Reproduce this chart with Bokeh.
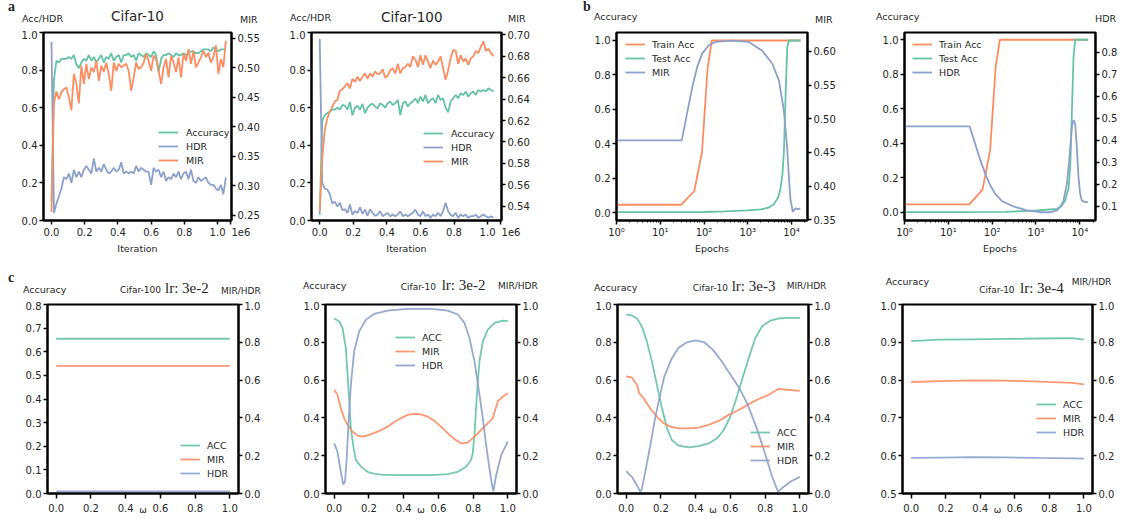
from bokeh.plotting import figure
from bokeh.models import (Range1d, LinearAxis, Legend, LegendItem, Div,
                          FixedTicker, PrintfTickFormatter, CustomJSTickFormatter)
from bokeh.layouts import row, column
from bokeh.embed import file_html
from bokeh.resources import INLINE

GREEN, ORANGE, BLUE = "#66c2a5", "#fc8d62", "#8da0cb"
SANS, SERIF, INK = "DejaVu Sans", "Liberation Serif", "#262626"

# ---------------- data: panel a (iterations in units of 1e6) ----------------
iter_c10 = [0.0, 0.015, 0.03, 0.045, 0.06, 0.075, 0.09, 0.105, 0.12, 0.135, 0.15, 0.165, 0.18, 0.195,
            0.21, 0.225, 0.24, 0.255, 0.27, 0.285, 0.3, 0.315, 0.33, 0.345, 0.36, 0.375, 0.39, 0.405,
            0.42, 0.435, 0.45, 0.465, 0.48, 0.495, 0.51, 0.525, 0.54, 0.555, 0.57, 0.585, 0.6, 0.615,
            0.63, 0.645, 0.66, 0.675, 0.69, 0.705, 0.72, 0.735, 0.75, 0.765, 0.78, 0.795, 0.81, 0.825,
            0.84, 0.855, 0.87, 0.885, 0.9, 0.915, 0.93, 0.945, 0.96, 0.975, 0.99, 1.005, 1.02, 1.035, 1.05]
acc_c10 = [0.10, 0.75, 0.85, 0.84, 0.86, 0.86, 0.86, 0.87, 0.86, 0.88,
           0.83, 0.81, 0.84, 0.86, 0.85, 0.88, 0.85, 0.87, 0.84, 0.86,
           0.88, 0.84, 0.87, 0.86, 0.89, 0.85, 0.87, 0.88, 0.84, 0.88,
           0.88, 0.89, 0.87, 0.88, 0.85, 0.89, 0.88, 0.87, 0.89, 0.88,
           0.87, 0.90, 0.88, 0.79, 0.86, 0.88, 0.88, 0.89, 0.88, 0.87,
           0.89, 0.88, 0.88, 0.89, 0.88, 0.89, 0.90, 0.90, 0.89, 0.89,
           0.90, 0.91, 0.91, 0.91, 0.90, 0.92, 0.91, 0.90, 0.91, 0.91, 0.91]
hdr_c10 = [0.95, 0.04, 0.09, 0.13, 0.17, 0.23, 0.22, 0.25, 0.20, 0.27,
           0.23, 0.26, 0.23, 0.27, 0.29, 0.27, 0.25, 0.33, 0.26, 0.28,
           0.26, 0.30, 0.27, 0.25, 0.26, 0.28, 0.26, 0.27, 0.31, 0.25,
           0.26, 0.25, 0.26, 0.25, 0.29, 0.26, 0.28, 0.27, 0.26, 0.26,
           0.19, 0.28, 0.26, 0.27, 0.23, 0.26, 0.21, 0.23, 0.22, 0.25,
           0.23, 0.26, 0.22, 0.25, 0.26, 0.22, 0.27, 0.21, 0.20, 0.23,
           0.21, 0.22, 0.23, 0.20, 0.19, 0.19, 0.17, 0.16, 0.19, 0.14, 0.23]
mir_c10 = [0.256, 0.44, 0.46, 0.447, 0.459, 0.464, 0.467, 0.450, 0.428, 0.490,
           0.473, 0.440, 0.504, 0.473, 0.507, 0.481, 0.501, 0.493, 0.512, 0.478,
           0.504, 0.493, 0.509, 0.490, 0.461, 0.509, 0.495, 0.507, 0.501, 0.504,
           0.507, 0.495, 0.461, 0.484, 0.509, 0.498, 0.501, 0.509, 0.524, 0.512,
           0.495, 0.521, 0.515, 0.495, 0.473, 0.501, 0.515, 0.484, 0.521, 0.509,
           0.493, 0.518, 0.484, 0.524, 0.512, 0.532, 0.507, 0.529, 0.501, 0.509,
           0.518, 0.529, 0.518, 0.526, 0.509, 0.518, 0.538, 0.490, 0.515, 0.501, 0.546]

iter_c100 = [0.0, 0.015, 0.03, 0.045, 0.06, 0.075, 0.09, 0.105, 0.12, 0.135, 0.15, 0.165, 0.18, 0.195,
             0.21, 0.225, 0.24, 0.255, 0.27, 0.285, 0.3, 0.315, 0.33, 0.345, 0.36, 0.375, 0.39, 0.405,
             0.42, 0.435, 0.45, 0.465, 0.48, 0.495, 0.51, 0.525, 0.54, 0.555, 0.57, 0.585, 0.6, 0.615,
             0.63, 0.645, 0.66, 0.675, 0.69, 0.705, 0.72, 0.735, 0.75, 0.765, 0.78, 0.795, 0.81, 0.825,
             0.84, 0.855, 0.87, 0.885, 0.9, 0.915, 0.93, 0.945, 0.96, 0.975, 0.99, 1.005, 1.02, 1.035]
acc_c100 = [0.03, 0.53, 0.56, 0.57, 0.58, 0.59, 0.59, 0.60, 0.59, 0.615,
            0.61, 0.59, 0.63, 0.56, 0.60, 0.61, 0.59, 0.62, 0.57, 0.60,
            0.615, 0.62, 0.605, 0.597, 0.624, 0.615, 0.60, 0.624, 0.633, 0.615,
            0.624, 0.641, 0.56, 0.624, 0.633, 0.606, 0.624, 0.633, 0.650, 0.624,
            0.659, 0.633, 0.668, 0.624, 0.641, 0.650, 0.624, 0.668, 0.641, 0.650,
            0.60, 0.575, 0.633, 0.650, 0.668, 0.650, 0.677, 0.668, 0.686, 0.659,
            0.677, 0.686, 0.668, 0.694, 0.686, 0.694, 0.686, 0.703, 0.694, 0.686]
hdr_c100 = [0.965, 0.20, 0.17, 0.165, 0.14, 0.09, 0.10, 0.075, 0.095, 0.055,
            0.06, 0.04, 0.085, 0.03, 0.05, 0.04, 0.07, 0.035, 0.058, 0.025,
            0.06, 0.04, 0.025, 0.032, 0.05, 0.023, 0.032, 0.04, 0.023, 0.032,
            0.023, 0.032, 0.049, 0.023, 0.032, 0.023, 0.032, 0.041, 0.058, 0.032,
            0.023, 0.049, 0.023, 0.032, 0.014, 0.032, 0.023, 0.041, 0.023, 0.05,
            0.094, 0.05, 0.03, 0.023, 0.041, 0.014, 0.032, 0.023, 0.032, 0.014,
            0.023, 0.023, 0.032, 0.014, 0.023, 0.032, 0.023, 0.014, 0.023, 0.014]
mir_c100 = [0.535, 0.585, 0.611, 0.622, 0.628, 0.633, 0.638, 0.639, 0.648, 0.649,
            0.652, 0.655, 0.650, 0.659, 0.656, 0.661, 0.657, 0.661, 0.664, 0.659,
            0.664, 0.661, 0.666, 0.663, 0.664, 0.668, 0.660, 0.662, 0.667, 0.669,
            0.664, 0.673, 0.664, 0.669, 0.670, 0.673, 0.670, 0.680, 0.677, 0.670,
            0.681, 0.672, 0.681, 0.675, 0.669, 0.676, 0.672, 0.675, 0.680, 0.669,
            0.658, 0.667, 0.678, 0.686, 0.685, 0.673, 0.681, 0.675, 0.678, 0.672,
            0.678, 0.680, 0.685, 0.683, 0.689, 0.694, 0.685, 0.687, 0.683, 0.680]

# ---------------- data: panel b (epochs, log axis) ----------------
ep_b1_train = [1, 30, 60, 90, 120, 150, 16000]
train_b1 = [0.045, 0.045, 0.125, 0.35, 0.83, 1.0, 1.0]
ep_b1_test = [1, 10, 100, 300, 1000, 2000, 3000, 4000, 5000, 5600, 6200, 6700, 7300, 8000, 8700, 10000, 16000]
test_b1 = [0.002, 0.002, 0.003, 0.006, 0.012, 0.018, 0.028, 0.05, 0.09, 0.14, 0.22, 0.35, 0.67, 0.96, 1.0, 1.0, 1.0]
ep_b1_mir = [1, 31, 41, 54, 70, 91, 129, 183, 440, 1060, 2140, 3620, 5160, 6660, 7950, 8690, 9480,
             10700, 12300, 14000, 16000]
mir_b1 = [0.468, 0.468, 0.508, 0.547, 0.577, 0.597, 0.609, 0.614, 0.616, 0.614, 0.601, 0.582, 0.557,
          0.513, 0.458, 0.414, 0.380, 0.362, 0.367, 0.366, 0.367]

ep_b2_train = [1, 30, 60, 90, 120, 150, 15500]
train_b2 = [0.045, 0.045, 0.13, 0.36, 0.84, 1.0, 1.0]
ep_b2_test = [1, 10, 200, 1050, 3000, 3890, 4660, 5580, 6080, 6580, 7180, 7850, 10000, 15500]
test_b2 = [0.0, 0.0, 0.002, 0.01, 0.019, 0.039, 0.068, 0.145, 0.28, 0.57, 0.90, 1.0, 1.0, 1.0]
ep_b2_hdr = [1, 30.7, 41, 54, 70, 91, 118, 168, 309, 621, 1250, 2120, 3000, 3570, 4250, 5070, 5830,
             6580, 7180, 7850, 8550, 9330, 10200, 11100, 13300, 15500]
hdr_b2 = [0.463, 0.463, 0.384, 0.309, 0.248, 0.195, 0.157, 0.124, 0.100, 0.082, 0.074, 0.074, 0.082,
          0.097, 0.127, 0.203, 0.324, 0.46, 0.493, 0.475, 0.369, 0.233, 0.157, 0.127, 0.12, 0.12]

# ---------------- data: panel c (omega) ----------------
w_c1 = [0.0, 0.1, 0.2, 0.3, 0.4, 0.5, 0.6, 0.7, 0.8, 0.9, 1.0]
acc_c1 = [0.655, 0.655, 0.655, 0.655, 0.655, 0.655, 0.655, 0.655, 0.655, 0.655, 0.655]
mir_c1 = [0.675, 0.675, 0.675, 0.675, 0.675, 0.675, 0.675, 0.675, 0.675, 0.675, 0.675]
hdr_c1 = [0.011, 0.011, 0.011, 0.011, 0.011, 0.011, 0.011, 0.011, 0.011, 0.011, 0.011]

w_c2_acc = [0.0, 0.029, 0.048, 0.067, 0.077, 0.087, 0.096, 0.112, 0.125, 0.154, 0.192, 0.231, 0.269,
            0.365, 0.462, 0.558, 0.654, 0.712, 0.76, 0.788, 0.798, 0.808, 0.817, 0.827, 0.837, 0.856,
            0.885, 0.923, 0.971, 1.0]
acc_c2 = [0.926, 0.91, 0.876, 0.77, 0.63, 0.487, 0.345, 0.24, 0.177, 0.142, 0.115, 0.104, 0.10, 0.097,
          0.097, 0.097, 0.103, 0.115, 0.142, 0.177, 0.212, 0.31, 0.45, 0.593, 0.70, 0.805, 0.867, 0.903,
          0.915, 0.912]
w_c2_mir = [0.0, 0.019, 0.038, 0.058, 0.077, 0.106, 0.135, 0.163, 0.202, 0.25, 0.308, 0.365, 0.423,
            0.462, 0.5, 0.538, 0.577, 0.615, 0.654, 0.692, 0.731, 0.769, 0.808, 0.846, 0.885, 0.913,
            0.942, 0.971, 1.0]
mir_c2 = [0.549, 0.522, 0.451, 0.398, 0.363, 0.327, 0.306, 0.301, 0.31, 0.327, 0.354, 0.389, 0.416,
          0.421, 0.419, 0.407, 0.384, 0.354, 0.319, 0.288, 0.265, 0.269, 0.301, 0.336, 0.372, 0.398,
          0.487, 0.513, 0.531]
w_c2_hdr = [0.0, 0.019, 0.038, 0.052, 0.062, 0.071, 0.083, 0.096, 0.115, 0.144, 0.183, 0.231, 0.308,
            0.423, 0.558, 0.654, 0.712, 0.75, 0.779, 0.808, 0.837, 0.856, 0.875, 0.894, 0.908, 0.917,
            0.933, 0.962, 1.0]
hdr_c2 = [0.265, 0.221, 0.115, 0.048, 0.062, 0.168, 0.38, 0.575, 0.752, 0.858, 0.92, 0.95, 0.968,
          0.977, 0.977, 0.968, 0.947, 0.903, 0.823, 0.699, 0.522, 0.398, 0.257, 0.133, 0.05, 0.012,
          0.097, 0.204, 0.274]

w_c3_acc = [0.0, 0.033, 0.062, 0.09, 0.119, 0.148, 0.177, 0.206, 0.235, 0.263, 0.302, 0.36, 0.417,
            0.475, 0.523, 0.562, 0.6, 0.629, 0.667, 0.706, 0.744, 0.783, 0.831, 0.879, 0.927, 1.0]
acc_c3 = [0.947, 0.942, 0.926, 0.885, 0.805, 0.699, 0.575, 0.451, 0.345, 0.283, 0.253, 0.244, 0.251,
          0.265, 0.292, 0.336, 0.407, 0.487, 0.602, 0.717, 0.823, 0.885, 0.915, 0.926, 0.929, 0.929]
w_c3_mir = [0.0, 0.033, 0.062, 0.075, 0.1, 0.138, 0.177, 0.215, 0.254, 0.302, 0.36, 0.417, 0.475,
            0.533, 0.59, 0.648, 0.706, 0.763, 0.821, 0.879, 0.927, 1.0]
mir_c3 = [0.619, 0.614, 0.575, 0.531, 0.504, 0.451, 0.407, 0.372, 0.354, 0.345, 0.345, 0.349, 0.363,
          0.384, 0.416, 0.442, 0.473, 0.50, 0.522, 0.554, 0.549, 0.543]
w_c3_hdr = [0.0, 0.033, 0.062, 0.081, 0.09, 0.11, 0.138, 0.167, 0.19, 0.22, 0.26, 0.3, 0.35, 0.4,
            0.45, 0.5, 0.55, 0.6, 0.65, 0.7, 0.75, 0.8, 0.84, 0.875, 0.9, 0.95, 1.0]
hdr_c3 = [0.119, 0.088, 0.044, 0.009, 0.023, 0.115, 0.25, 0.40, 0.50, 0.62, 0.71, 0.77, 0.80, 0.81,
          0.80, 0.76, 0.70, 0.63, 0.56, 0.47, 0.35, 0.21, 0.09, 0.009, 0.03, 0.065, 0.088]

w_c4 = [0.0, 0.163, 0.356, 0.548, 0.74, 0.933, 1.0]
acc_c4 = [0.903, 0.907, 0.908, 0.909, 0.910, 0.911, 0.907]
mir_c4 = [0.590, 0.595, 0.599, 0.597, 0.592, 0.585, 0.577]
hdr_c4 = [0.188, 0.190, 0.192, 0.191, 0.188, 0.186, 0.185]

# ---------------- tick labels ----------------
ticks_01 = [0.0, 0.2, 0.4, 0.6, 0.8, 1.0]
ticks_iter = [0.0, 0.2, 0.4, 0.6, 0.8, 1.0, 1.08]      # last one carries the "1e6" offset text
ticks_08 = [0.0, 0.1, 0.2, 0.3, 0.4, 0.5, 0.6, 0.7, 0.8]
ticks_05 = [0.5, 0.6, 0.7, 0.8, 0.9, 1.0]
ticks_mir_a1 = [0.25, 0.30, 0.35, 0.40, 0.45, 0.50, 0.55]
ticks_mir_a2 = [0.54, 0.56, 0.58, 0.60, 0.62, 0.64, 0.66, 0.68, 0.70]
ticks_mir_b1 = [0.35, 0.40, 0.45, 0.50, 0.55, 0.60]
ticks_hdr_b2 = [0.1, 0.2, 0.3, 0.4, 0.5, 0.6, 0.7, 0.8]
ticks_log = [1, 10, 100, 1000, 10000]
minor_log = [m * 10 ** d for d in range(5) for m in range(2, 10)]
OFFSET_TXT = "\u2002\u2002\u2002\u20021e6"


def style_axis(ax, ticks, fmt=None, minor=None, standoff=2, tick_out=4):
    ax.ticker = FixedTicker(ticks=ticks, minor_ticks=minor or [])
    if fmt:
        ax.formatter = PrintfTickFormatter(format=fmt)
    ax.axis_line_color = "black"
    ax.axis_line_width = 2
    ax.major_tick_line_color = "black"
    ax.major_tick_line_width = 1.5
    ax.major_tick_in = 0
    ax.major_tick_out = tick_out
    ax.minor_tick_line_color = "black" if minor else None
    ax.minor_tick_line_width = 1
    ax.minor_tick_in = 0
    ax.minor_tick_out = 2
    ax.major_label_text_font = SANS
    ax.major_label_text_font_size = "10px"
    ax.major_label_text_color = INK
    ax.major_label_standoff = standoff
    ax.axis_label_text_font = SANS
    ax.axis_label_text_font_size = "9.5px"
    ax.axis_label_text_font_style = "normal"
    ax.axis_label_text_color = INK
    ax.axis_label_standoff = 2


def panel(fw, fh, bl, br, bt, bb, xr, yr, log=False):
    p = figure(frame_width=fw, frame_height=fh, min_border_left=bl, min_border_right=br,
               min_border_top=bt, min_border_bottom=bb, x_range=Range1d(*xr), y_range=Range1d(*yr),
               x_axis_type="log" if log else "linear", output_backend="svg",
               toolbar_location=None, title=None)
    p.xgrid.grid_line_color = None
    p.ygrid.grid_line_color = None
    p.outline_line_color = "black"
    p.outline_line_width = 2
    p.outline_line_alpha = 1
    return p


def right_axis(p, lo, hi, ticks, fmt):
    p.extra_y_ranges = {"r": Range1d(lo, hi)}
    ax = LinearAxis(y_range_name="r")
    style_axis(ax, ticks, fmt)
    p.add_layout(ax, "right")


def legend(p, items, vx, vy, standoff=8):
    lg = Legend(items=[LegendItem(label=l, renderers=[r]) for l, r in items], location=(vx, vy),
                padding=0, margin=0, spacing=0, glyph_width=20, glyph_height=14, label_height=14,
                label_standoff=standoff, label_text_font=SANS, label_text_font_size="9.5px",
                label_text_color=INK, background_fill_alpha=0, border_line_color=None)
    p.add_layout(lg)


def T(left, top, s, size=9.5, font=SANS, bold=False):
    w = "bold" if bold else "normal"
    return ('<span style="position:absolute;left:%.1fpx;top:%.1fpx;font-family:\'%s\';'
            'font-size:%.1fpx;font-weight:%s;line-height:1;color:%s;white-space:nowrap;">%s</span>'
            % (left, top, font, size, w, INK, s))


def band(width, height, spans):
    html = ('<div style="position:relative;width:%dpx;height:%dpx;overflow:visible;">%s</div>'
            % (width, height, "".join(spans)))
    return Div(text=html, width=width, height=height, margin=0)


LW = 1.8
log_fmt = CustomJSTickFormatter(code="""
const s = ["\u2070", "\u00b9", "\u00b2", "\u00b3", "\u2074", "\u2075"];
const e = Math.round(Math.log10(tick));
return "10" + s[e];
""")

# ---------------- a1 ----------------
a1 = panel(188, 188, 43, 40, 2, 40, (-0.048, 1.084), (0, 1))
style_axis(a1.xaxis[0], ticks_iter, "%.1f")
a1.xaxis[0].major_label_overrides = {1.08: OFFSET_TXT}
a1.xaxis[0].axis_label = "Iteration"
style_axis(a1.yaxis[0], ticks_01, "%.1f")
right_axis(a1, 0.2415, 0.560, ticks_mir_a1, "%.2f")
r_acc = a1.line(iter_c10, acc_c10, color=GREEN, line_width=LW)
r_hdr = a1.line(iter_c10, hdr_c10, color=BLUE, line_width=LW)
r_mir = a1.line(iter_c10, mir_c10, color=ORANGE, line_width=LW, y_range_name="r")
legend(a1, [("Accuracy", r_acc), ("HDR", r_hdr), ("MIR", r_mir)], 115, 53)

# ---------------- a2 ----------------
a2 = panel(190, 188, 40, 70, 2, 40, (-0.049, 1.083), (0, 1))
style_axis(a2.xaxis[0], ticks_iter, "%.1f")
a2.xaxis[0].major_label_overrides = {1.08: OFFSET_TXT}
a2.xaxis[0].axis_label = "Iteration"
style_axis(a2.yaxis[0], ticks_01, "%.1f")
right_axis(a2, 0.5267, 0.7022, ticks_mir_a2, "%.2f")
r_acc = a2.line(iter_c100, acc_c100, color=GREEN, line_width=LW)
r_hdr = a2.line(iter_c100, hdr_c100, color=BLUE, line_width=LW)
r_mir = a2.line(iter_c100, mir_c100, color=ORANGE, line_width=LW, y_range_name="r")
legend(a2, [("Accuracy", r_acc), ("HDR", r_hdr), ("MIR", r_mir)], 112, 52)

# ---------------- b1 ----------------
b1 = panel(191, 188, 45, 52, 2, 40, (1, 23200), (-0.0465, 1.0465), log=True)
style_axis(b1.xaxis[0], ticks_log, None, minor=minor_log)
b1.xaxis[0].formatter = log_fmt
b1.xaxis[0].axis_label = "Epochs"
style_axis(b1.yaxis[0], ticks_01, "%.1f")
right_axis(b1, 0.349, 0.628, ticks_mir_b1, "%.2f")
r_tr = b1.line(ep_b1_train, train_b1, color=ORANGE, line_width=LW)
r_te = b1.line(ep_b1_test, test_b1, color=GREEN, line_width=LW)
r_mir = b1.line(ep_b1_mir, mir_b1, color=BLUE, line_width=LW, y_range_name="r")
legend(b1, [("Train Acc", r_tr), ("Test Acc", r_te), ("MIR", r_mir)], 9, 141, standoff=7)

# ---------------- b2 ----------------
b2 = panel(191, 188, 45, 24, 2, 40, (1, 22800), (-0.048, 1.042), log=True)
style_axis(b2.xaxis[0], ticks_log, None, minor=minor_log)
b2.xaxis[0].formatter = log_fmt
b2.xaxis[0].axis_label = "Epochs"
style_axis(b2.yaxis[0], ticks_01, "%.1f")
right_axis(b2, 0.0365, 0.889, ticks_hdr_b2, "%.1f")
r_tr = b2.line(ep_b2_train, train_b2, color=ORANGE, line_width=LW)
r_te = b2.line(ep_b2_test, test_b2, color=GREEN, line_width=LW)
r_hdr = b2.line(ep_b2_hdr, hdr_b2, color=BLUE, line_width=LW, y_range_name="r")
legend(b2, [("Train Acc", r_tr), ("Test Acc", r_te), ("HDR", r_hdr)], 8, 141, standoff=7)

top_band = band(1119, 30, [
    T(8, 0, "a", 14, SERIF, True),
    T(22, 14.4, "Acc/HDR"),
    T(111, 10.2, "Cifar-10", 13.5),
    T(240, 15.4, "MIR"),
    T(290, 12.7, "Acc/HDR"),
    T(381, 10.8, "Cifar-100", 13.5),
    T(508, 13.7, "MIR"),
    T(583, 0, "b", 14, SERIF, True),
    T(594, 12.1, "Accuracy"),
    T(815, 14.7, "MIR"),
    T(876, 12.1, "Accuracy"),
    T(1095, 14.4, "HDR"),
])


# ---------------- c panels ----------------
def c_panel(bl, br, fw, bt, yr, yticks, series, leg_xy):
    p = panel(fw, 189, bl, br, bt, 24, (-0.05, 1.05), yr)
    style_axis(p.xaxis[0], ticks_01, "%.1f", standoff=5, tick_out=5)
    p.xaxis[0].axis_label = "\u03c9"
    p.xaxis[0].axis_label_text_font_size = "9px"
    p.xaxis[0].axis_label_standoff = -10
    style_axis(p.yaxis[0], yticks, "%.1f")
    right_axis(p, 0, 1, ticks_01, "%.1f")
    (wa, acc), (wm, mir), (wh, hdr) = series
    ra = p.line(wa, acc, color=GREEN, line_width=LW, alpha=0.9)
    rm = p.line(wm, mir, color=ORANGE, line_width=LW, alpha=0.9, y_range_name="r")
    rh = p.line(wh, hdr, color=BLUE, line_width=LW, alpha=0.9, y_range_name="r")
    legend(p, [("ACC", ra), ("MIR", rm), ("HDR", rh)], leg_xy[0], leg_xy[1], standoff=7)
    return p


c1 = c_panel(47, 45, 191, 2, (0, 0.8), ticks_08,
             [(w_c1, acc_c1), (w_c1, mir_c1), (w_c1, hdr_c1)], (133, 13))
c2 = c_panel(42, 48, 191, 2, (0, 1), ticks_01,
             [(w_c2_acc, acc_c2), (w_c2_mir, mir_c2), (w_c2_hdr, hdr_c2)], (70, 121))
c3 = c_panel(53, 45, 191, 2, (0, 1), ticks_01,
             [(w_c3_acc, acc_c3), (w_c3_mir, mir_c3), (w_c3_hdr, hdr_c3)], (133, 26))
c4 = c_panel(49, 24, 190, 3, (0.5, 1.0), ticks_05,
             [(w_c4, acc_c4), (w_c4, mir_c4), (w_c4, hdr_c4)], (134, 54))

bottom_band = band(1116, 41, [
    T(8, 11.3, "c", 14, SERIF, True),
    T(23, 24.7, "Accuracy"),
    T(120, 25.9, "Cifar-100", 9),
    T(165, 20.9, "lr: 3e-2", 15, SERIF),
    T(221, 26.6, "MIR/HDR", 9),
    T(303, 21.4, "Accuracy"),
    T(400.7, 23.1, "Cifar-10", 9),
    T(441.7, 18.1, "lr: 3e-2", 15, SERIF),
    T(498, 22.3, "MIR/HDR", 9),
    T(594, 22.7, "Accuracy"),
    T(692.7, 24.1, "Cifar-10", 9),
    T(731.7, 19.1, "lr: 3e-3", 15, SERIF),
    T(786.7, 22.3, "MIR/HDR", 9),
    T(885.7, 17.1, "Accuracy"),
    T(979.3, 25.7, "Cifar-10", 9),
    T(1020, 20.7, "lr: 3e-4", 15, SERIF),
    T(1071.7, 18.3, "MIR/HDR", 9),
])

layout = column(top_band, row(a1, a2, b1, b2), bottom_band, row(c1, c2, c3, c4))
open("out.html", "w").write(file_html(layout, INLINE))
